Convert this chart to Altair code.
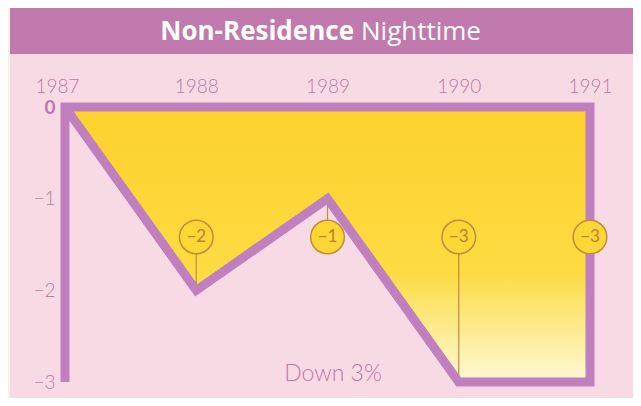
import altair as alt
import pandas as pd

# ---- data ----
years = [1987, 1988, 1989, 1990, 1991]
values = [0, -2, -1, -3, -3]
label_years = [1988, 1989, 1990, 1991]
label_values = [-2, -1, -3, -3]
label_texts = ["\u22122", "\u22121", "\u22123", "\u22123"]
y_ticks = [0, -1, -2, -3]
title_bold = ["Non-Residence"]
title_light = ["Nighttime"]
note = ["Down 3%"]

# ---- colours / styles ----
OUTER = "#f3f4e2"
PANEL = "#f8dae5"
TITLE_BAR = "#c07aae"
LINE = "#c07fbf"
TEXT = "#b87aa8"
CIRCLE_STROKE = "#c48a42"
CIRCLE_TEXT = "#c07c3a"

df = pd.DataFrame({"year": years, "value": values})
lab = pd.DataFrame({"year": label_years, "value": label_values, "label": label_texts})

# purple frame + data line path built from the data
ymin = min(y_ticks)
path_pts = [(years[0], ymin), (years[0], 0), (years[-1], 0), (years[-1], ymin)]
path_pts += list(zip(years[::-1], values[::-1]))[1:]
path = pd.DataFrame({"year": [p[0] for p in path_pts],
                     "value": [p[1] for p in path_pts],
                     "order": list(range(len(path_pts)))})

X = alt.X("year:Q",
          scale=alt.Scale(domain=[years[0], years[-1]], range=[57, 582], nice=False, zero=False),
          axis=alt.Axis(orient="top", values=years, format="d", offset=-84, zindex=1,
                        labelPadding=0, tickSize=0, ticks=False, domain=False, grid=False,
                        labelFlush=False,
                        labelOffset=alt.expr("datum.value == 1987 ? -8 : 0"),
                        labelFontSize=19, labelColor=TEXT, labelFont="Lato", labelFontWeight=300,
                        labelBaseline="alphabetic", title=None))
Y = alt.Y("value:Q",
          scale=alt.Scale(domain=[ymin, 0], range=[374, 99], nice=False, zero=False),
          axis=alt.Axis(orient="left", values=y_ticks, format="d", offset=-47, zindex=1,
                        labelPadding=0, tickSize=0, ticks=False, domain=False, grid=False,
                        labelFontSize=19, labelColor=TEXT, labelFont="Lato",
                        labelFontWeight=alt.expr("datum.value == 0 ? 'bold' : 300"),
                        title=None))

one = pd.DataFrame({"a": [0]})

panel = alt.Chart(one).mark_rect(color=PANEL).encode(
    x=alt.value(2), x2=alt.value(625), y=alt.value(46), y2=alt.value(390))
bar = alt.Chart(one).mark_rect(color=TITLE_BAR).encode(
    x=alt.value(2), x2=alt.value(625), y=alt.value(0), y2=alt.value(46))

t_bold = alt.Chart(pd.DataFrame({"t": title_bold})).mark_text(
    font="Open Sans", fontSize=26, fontWeight="bold", color="white",
    align="right", baseline="middle").encode(
    text="t:N", x=alt.value(346), y=alt.value(24))
t_light = alt.Chart(pd.DataFrame({"t": title_light})).mark_text(
    font="Open Sans", fontSize=26, fontWeight="normal", color="white",
    align="left", baseline="middle").encode(
    text="t:N", x=alt.value(353), y=alt.value(24))

area = alt.Chart(df).mark_area(
    color=alt.Gradient(gradient="linear",
                       stops=[alt.GradientStop(color="#fcd22c", offset=0),
                              alt.GradientStop(color="#fddb42", offset=0.6),
                              alt.GradientStop(color="#fef9d6", offset=1)],
                       x1=0, x2=0, y1=0, y2=1)
).encode(x=X, y=Y, y2=alt.datum(0))

rules = alt.Chart(lab).mark_rule(color=CIRCLE_STROKE, strokeWidth=1.2).encode(
    x=X, y=Y, y2=alt.value(229))

line = alt.Chart(path).mark_line(color=LINE, strokeWidth=9, strokeJoin="miter").encode(
    x=X, y=Y, order="order:Q")

circles = alt.Chart(lab).mark_point(
    shape="circle", filled=True, size=1130, fill="#fdd733",
    stroke=CIRCLE_STROKE, strokeWidth=1.5, opacity=1).encode(
    x=X, y=alt.value(229))

ctext = alt.Chart(lab).mark_text(
    font="Lato", fontSize=17, color=CIRCLE_TEXT, baseline="middle").encode(
    x=X, y=alt.value(229), text="label:N")

note_t = alt.Chart(pd.DataFrame({"t": note})).mark_text(
    font="Lato", fontSize=23, fontWeight=300, color=TEXT, align="center",
    baseline="alphabetic").encode(
    text="t:N", x=alt.value(325), y=alt.value(373))

chart = alt.layer(panel, bar, t_bold, t_light, area, rules, line, circles, ctext, note_t).properties(
    width=625, height=390, background=OUTER,
    autosize=alt.AutoSizeParams(type="none"), padding=0
).configure_view(stroke=None)

chart.save("out.html", embed_options={"renderer": "svg", "actions": False})
